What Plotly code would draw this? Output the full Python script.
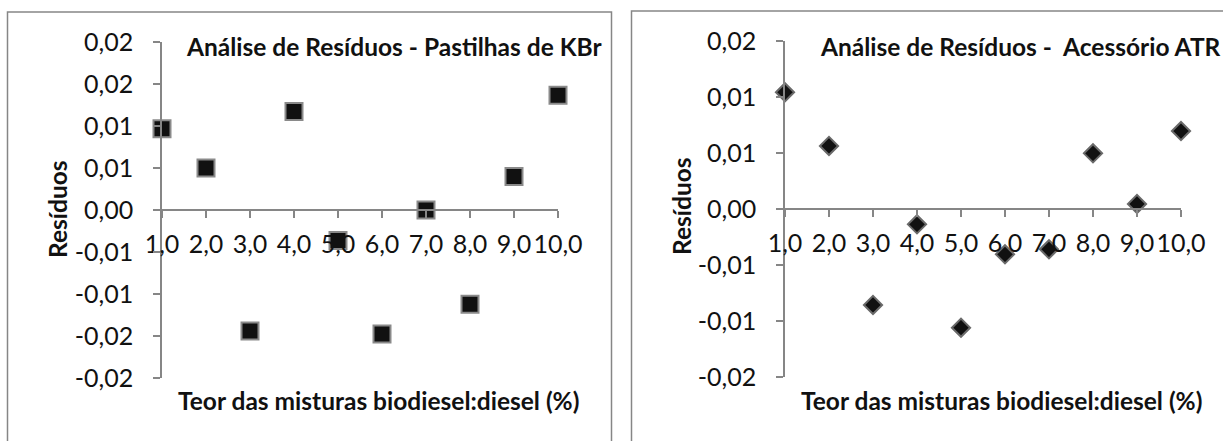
import plotly.graph_objects as go

W, H = 1223, 441

teor = [1, 2, 3, 4, 5, 6, 7, 8, 9, 10]
res_kbr = [0.00966, 0.0050, -0.0144, 0.01174, -0.00363, -0.01477, 0.0, -0.01122, 0.00399, 0.01365]
res_atr = [0.01042, 0.00563, -0.00857, -0.00137, -0.0106, -0.00405, -0.0036, 0.00497, 0.00045, 0.00696]

x_ticks = [1, 2, 3, 4, 5, 6, 7, 8, 9, 10]
x_ticktext = ["1,0", "2,0", "3,0", "4,0", "5,0", "6,0", "7,0", "8,0", "9,0", "10,0"]
y_ticks_kbr = [-0.02, -0.015, -0.01, -0.005, 0, 0.005, 0.01, 0.015, 0.02]
y_ticktext_kbr = ["-0,02", "-0,02", "-0,01", "-0,01", "0,00", "0,01", "0,01", "0,02", "0,02"]
y_ticks_atr = [-0.015, -0.01, -0.005, 0, 0.005, 0.01, 0.015]
y_ticktext_atr = ["-0,02", "-0,01", "-0,01", "0,00", "0,01", "0,01", "0,02"]

title_kbr = "Análise de Resíduos - Pastilhas de KBr"
title_atr = "Análise de Resíduos -  Acessório ATR"
xtitle = "Teor das misturas biodiesel:diesel (%)"
ytitle = "Resíduos"

FONT = "Lato"
FS = 25
FT = 24.5
AX = "#868686"

def px(v):
    return v / W

def py(v):
    return 1 - v / H

fig = go.Figure()
fig.add_trace(go.Scatter(x=teor, y=res_kbr, mode="markers", xaxis="x", yaxis="y",
                         marker=dict(symbol="square", size=17, color="#111111",
                                     line=dict(color="#8a8a8a", width=2)),
                         cliponaxis=False, showlegend=False))
fig.add_trace(go.Scatter(x=teor, y=res_atr, mode="markers", xaxis="x2", yaxis="y2",
                         marker=dict(symbol="diamond", size=14, color="#111111",
                                     line=dict(color="#6a6a6a", width=2)),
                         cliponaxis=False, showlegend=False))

yr1 = [-0.02, 0.02]
yr2 = [-0.015, 0.015]
yd1 = [py(378), py(42)]
yd2 = [py(377), py(41)]

def zero_pos(rng, dom):
    return dom[0] + (0 - rng[0]) / (rng[1] - rng[0]) * (dom[1] - dom[0])

common_x = dict(range=[1, 10], tickvals=x_ticks, ticktext=x_ticktext, showgrid=False,
                zeroline=False, showline=True, linecolor=AX, linewidth=1.5,
                ticks="outside", ticklen=7, tickcolor=AX, tickwidth=1.5,
                tickfont=dict(family=FONT, size=FS, color="#111"),
                ticklabelstandoff=5, anchor="free", automargin=False)
common_y = dict(showgrid=False, zeroline=False, showline=True, linecolor=AX, linewidth=1.5,
                ticks="outside", ticklen=7, tickcolor=AX, tickwidth=1.5,
                tickfont=dict(family=FONT, size=FS, color="#111"),
                ticklabelstandoff=15, automargin=False)

fig.update_layout(
    template="none",
    width=W, height=H, margin=dict(l=0, r=0, t=0, b=0, pad=0),
    paper_bgcolor="white", plot_bgcolor="rgba(0,0,0,0)",
    xaxis=dict(domain=[px(162), px(558)], position=zero_pos(yr1, yd1), **common_x),
    yaxis=dict(domain=yd1, range=yr1, tickvals=y_ticks_kbr, ticktext=y_ticktext_kbr,
               anchor="x", **common_y),
    xaxis2=dict(domain=[px(785), px(1181)], position=zero_pos(yr2, yd2), **common_x),
    yaxis2=dict(domain=yd2, range=yr2, tickvals=y_ticks_atr, ticktext=y_ticktext_atr,
                anchor="x2", **common_y),
    shapes=[
        dict(type="rect", xref="paper", yref="paper", x0=px(7.5), x1=px(611.5),
             y0=-0.05, y1=py(12), line=dict(color=AX, width=1.5), layer="below"),
        dict(type="rect", xref="paper", yref="paper", x0=px(631.5), x1=1.05,
             y0=-0.05, y1=py(11), line=dict(color=AX, width=1.5), layer="below"),
    ],
    annotations=[
        dict(text="<b>%s</b>" % title_kbr, xref="paper", yref="paper", x=px(394), y=py(47),
             xanchor="center", yanchor="middle", showarrow=False,
             font=dict(family=FONT, size=FT, color="#111")),
        dict(text="<b>%s</b>" % title_atr, xref="paper", yref="paper", x=px(818), y=py(46),
             xanchor="left", yanchor="middle", showarrow=False,
             font=dict(family=FONT, size=FT, color="#111")),
        dict(text="<b>%s</b>" % xtitle, xref="paper", yref="paper", x=px(378), y=py(400),
             xanchor="center", yanchor="middle", showarrow=False,
             font=dict(family=FONT, size=FT, color="#111")),
        dict(text="<b>%s</b>" % xtitle, xref="paper", yref="paper", x=px(1001), y=py(400),
             xanchor="center", yanchor="middle", showarrow=False,
             font=dict(family=FONT, size=FT, color="#111")),
        dict(text="<b>%s</b>" % ytitle, xref="paper", yref="paper", x=px(58), y=py(209),
             xanchor="center", yanchor="middle", showarrow=False, textangle=-90,
             font=dict(family=FONT, size=FT, color="#111")),
        dict(text="<b>%s</b>" % ytitle, xref="paper", yref="paper", x=px(682), y=py(206),
             xanchor="center", yanchor="middle", showarrow=False, textangle=-90,
             font=dict(family=FONT, size=FT, color="#111")),
    ],
)

fig.write_html("out.html")
